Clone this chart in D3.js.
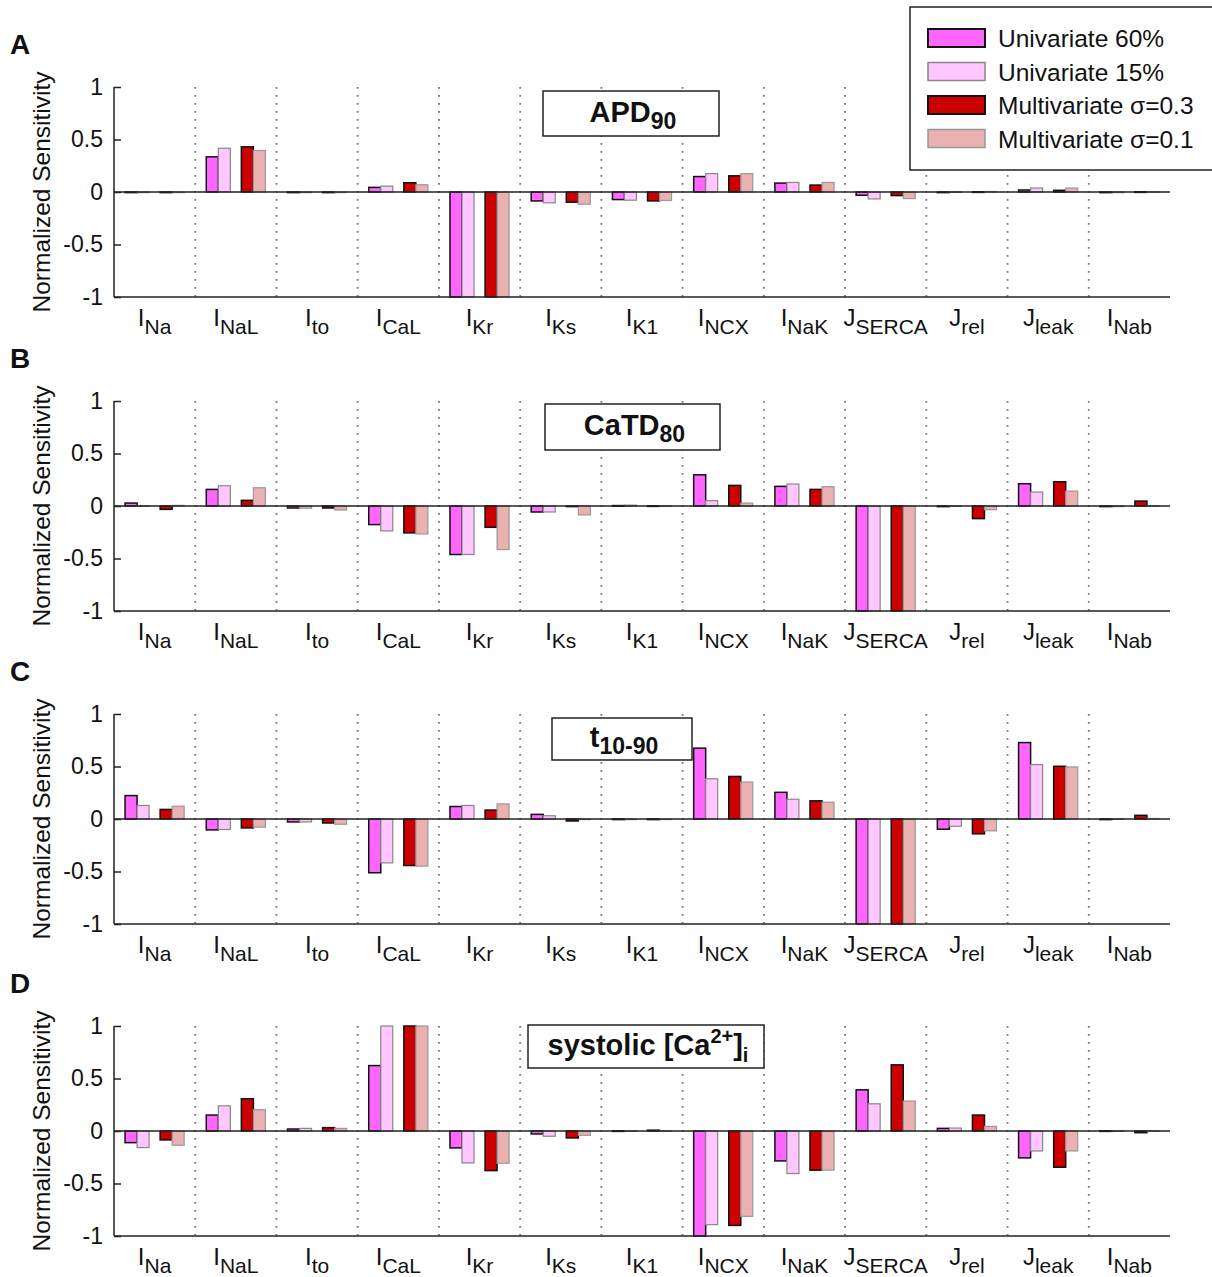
<!DOCTYPE html>
<html>
<head>
<meta charset="utf-8">
<script src="https://cdn.jsdelivr.net/npm/d3@7"></script>
<style>
  html, body { margin: 0; padding: 0; background: #fff; }
  svg { display: block; font-family: Arial, "Liberation Sans", sans-serif; }
</style>
</head>
<body>
<svg id="chart" width="1212" height="1277"></svg>
<script>
// ---------- DATA ----------
const categories = [
  {main: "I", sub: "Na"}, {main: "I", sub: "NaL"}, {main: "I", sub: "to"},
  {main: "I", sub: "CaL"}, {main: "I", sub: "Kr"}, {main: "I", sub: "Ks"},
  {main: "I", sub: "K1"}, {main: "I", sub: "NCX"}, {main: "I", sub: "NaK"},
  {main: "J", sub: "SERCA"}, {main: "J", sub: "rel"}, {main: "J", sub: "leak"},
  {main: "I", sub: "Nab"}
];
const seriesNames = ["Univariate 60%", "Univariate 15%", "Multivariate \u03c3=0.3", "Multivariate \u03c3=0.1"];
const yTicks = [1, 0.5, 0, -0.5, -1];
const panelLetters = ["A", "B", "C", "D"];

// APD90: [uni60, uni15, multi0.3, multi0.1] per category
const apd90 = [
  [-0.004, -0.003, -0.003, -0.003],
  [0.335, 0.417, 0.43, 0.395],
  [-0.004, -0.003, -0.003, -0.003],
  [0.044, 0.056, 0.088, 0.069],
  [-1, -1, -1, -1],
  [-0.085, -0.103, -0.097, -0.116],
  [-0.072, -0.078, -0.085, -0.081],
  [0.147, 0.175, 0.154, 0.175],
  [0.085, 0.091, 0.066, 0.091],
  [-0.031, -0.066, -0.034, -0.063],
  [-0.003, 0.002, 0.002, 0.005],
  [0.019, 0.038, 0.016, 0.038],
  [-0.003, -0.003, 0.002, 0.003]
];
const catd80 = [
  [0.028, 0.003, -0.032, 0.006],
  [0.158, 0.193, 0.054, 0.174],
  [-0.019, -0.02, -0.019, -0.038],
  [-0.177, -0.237, -0.256, -0.266],
  [-0.462, -0.462, -0.203, -0.415],
  [-0.057, -0.057, -0.003, -0.085],
  [0.004, 0.008, 0.002, 0.002],
  [0.297, 0.051, 0.196, 0.028],
  [0.187, 0.209, 0.158, 0.184],
  [-1, -1, -1, -1],
  [-0.006, 0.002, -0.12, -0.035],
  [0.212, 0.133, 0.231, 0.142],
  [-0.005, -0.005, 0.047, 0.003]
];
const t1090 = [
  [0.223, 0.129, 0.091, 0.122],
  [-0.104, -0.1, -0.085, -0.078],
  [-0.028, -0.028, -0.038, -0.05],
  [-0.512, -0.418, -0.443, -0.449],
  [0.119, 0.129, 0.085, 0.144],
  [0.044, 0.031, -0.019, -0.005],
  [-0.003, -0.003, -0.003, -0.003],
  [0.675, 0.383, 0.405, 0.352],
  [0.254, 0.188, 0.173, 0.16],
  [-1, -1, -1, -1],
  [-0.097, -0.069, -0.141, -0.113],
  [0.728, 0.518, 0.502, 0.496],
  [-0.003, 0.002, 0.035, 0.005]
];
const systolicCa = [
  [-0.111, -0.158, -0.085, -0.136],
  [0.152, 0.24, 0.307, 0.203],
  [0.019, 0.025, 0.032, 0.025],
  [0.623, 1, 1, 1],
  [-0.161, -0.304, -0.377, -0.307],
  [-0.028, -0.05, -0.066, -0.041],
  [0.002, 0.002, 0.008, 0.002],
  [-1, -0.892, -0.899, -0.813],
  [-0.285, -0.405, -0.373, -0.373],
  [0.392, 0.259, 0.63, 0.285],
  [0.025, 0.028, 0.152, 0.044],
  [-0.256, -0.19, -0.345, -0.19],
  [0.002, 0.002, -0.016, 0.002]
];
const panelData = [apd90, catd80, t1090, systolicCa];

// ---------- STYLE / LAYOUT ----------
const fills = ["#ff66ff", "#ffc6ff", "#cc0000", "#ebb0b0"];
const strokes = ["#111", "#888", "#111", "#999"];
const panelTops = [87, 401, 714, 1026];
const panelH = 210;
const plotLeft = 114, plotRight = 1170;
const titleBoxes = [
  {x: 543, y: 91, w: 176, h: 45},
  {x: 545, y: 404, w: 175, h: 46},
  {x: 552, y: 718, w: 140, h: 42},
  {x: 528, y: 1025, w: 236, h: 43}
];

const svg = d3.select("#chart");
const x = d3.scaleBand().domain(d3.range(categories.length)).range([plotLeft, plotRight]).padding(0);
const bw = x.bandwidth();
const barW = bw * 0.148;
const inner = d3.scaleOrdinal().domain([0,1,2,3]).range([
  bw*0.136, bw*0.136 + barW, bw*0.136 + 2*barW + bw*0.136, bw*0.136 + 3*barW + bw*0.136
]);

panelData.forEach((data, p) => {
  const top = panelTops[p];
  const y = d3.scaleLinear().domain([-1, 1]).range([top + panelH, top]);
  const g = svg.append("g");

  // dotted separators
  g.selectAll("line.sep").data(d3.range(1, categories.length)).join("line")
    .attr("x1", d => x(d)).attr("x2", d => x(d))
    .attr("y1", y(1)).attr("y2", y(-1))
    .attr("stroke", "#777").attr("stroke-width", 1.8)
    .attr("stroke-dasharray", "1.8,6.2");

  // bars
  const flat = [];
  data.forEach((vals, ci) => vals.forEach((v, si) => flat.push({ci, si, v})));
  g.selectAll("rect.bar").data(flat).join("rect")
    .attr("x", d => x(d.ci) + inner(d.si))
    .attr("width", barW)
    .attr("y", d => y(Math.max(0, d.v)))
    .attr("height", d => Math.max(0.6, Math.abs(y(d.v) - y(0))))
    .attr("fill", d => fills[d.si])
    .attr("stroke", d => strokes[d.si])
    .attr("stroke-width", d => (d.si % 2 === 0 ? 1.5 : 1.2));

  // zero line
  g.append("line").attr("x1", plotLeft).attr("x2", plotRight)
    .attr("y1", y(0)).attr("y2", y(0)).attr("stroke", "#222").attr("stroke-width", 1.5);

  // y axis
  const yAxis = d3.axisLeft(y).tickValues(yTicks).tickSize(-7).tickPadding(11)
    .tickFormat(d => String(d));
  const ya = g.append("g").attr("transform", `translate(${plotLeft},0)`).call(yAxis);
  ya.select(".domain").attr("stroke", "#222").attr("stroke-width", 1.5).attr("d", `M0,${y(1)}V${y(-1)}`);
  ya.selectAll(".tick line").attr("stroke", "#222").attr("stroke-width", 1.5);
  ya.selectAll(".tick text").attr("font-size", 23).attr("fill", "#111")
    .attr("font-family", "Arial, 'Liberation Sans', sans-serif");

  // bottom axis line
  g.append("line").attr("x1", plotLeft).attr("x2", plotRight)
    .attr("y1", y(-1)).attr("y2", y(-1)).attr("stroke", "#222").attr("stroke-width", 1.5);

  // category labels
  const labs = g.selectAll("text.cat").data(categories).join("text")
    .attr("x", (d, i) => x(i) + bw / 2)
    .attr("y", y(-1) + 32)
    .attr("text-anchor", "middle")
    .attr("font-size", 24).attr("fill", "#111");
  labs.append("tspan").text(d => d.main).attr("dy", -3);
  labs.append("tspan").text(d => d.sub).attr("font-size", 21).attr("dy", 8);

  // y label
  g.append("text")
    .attr("transform", `translate(50,${top + panelH / 2}) rotate(-90)`)
    .attr("text-anchor", "middle").attr("font-size", 24.5).attr("fill", "#111")
    .text("Normalized Sensitivity");

  // panel letter
  g.append("text").attr("x", 10).attr("y", top - 33)
    .attr("font-size", 28).attr("font-weight", "bold").attr("fill", "#111")
    .text(panelLetters[p]);

  // title box
  const tb = titleBoxes[p];
  g.append("rect").attr("x", tb.x).attr("y", tb.y).attr("width", tb.w).attr("height", tb.h)
    .attr("fill", "#fff").attr("stroke", "#222").attr("stroke-width", 1.5);
  const tt = g.append("text").attr("x", tb.x + tb.w / 2 + 2).attr("y", tb.y + tb.h / 2 + 8)
    .attr("text-anchor", "middle").attr("font-size", 29).attr("font-weight", "bold").attr("fill", "#111");
  if (p === 0) {
    tt.append("tspan").text("APD");
    tt.append("tspan").text("90").attr("font-size", 23).attr("dy", 7);
  } else if (p === 1) {
    tt.append("tspan").text("CaTD");
    tt.append("tspan").text("80").attr("font-size", 23).attr("dy", 7);
  } else if (p === 2) {
    tt.append("tspan").text("t");
    tt.append("tspan").text("10-90").attr("font-size", 23).attr("dy", 7);
  } else {
    tt.append("tspan").text("systolic [Ca");
    tt.append("tspan").text("2+").attr("font-size", 20).attr("dy", -12);
    tt.append("tspan").text("]").attr("dy", 12);
    tt.append("tspan").text("i").attr("font-size", 20).attr("dy", 7);
  }
});

// legend
const lg = svg.append("g");
lg.append("rect").attr("x", 910).attr("y", 7).attr("width", 310).attr("height", 163)
  .attr("fill", "#fff").attr("stroke", "#222").attr("stroke-width", 1.5);
const rows = lg.selectAll("g.row").data(seriesNames).join("g")
  .attr("transform", (d, i) => `translate(0,${38 + i * 33.5})`);
rows.append("rect").attr("x", 928).attr("y", -9).attr("width", 57).attr("height", 18)
  .attr("fill", (d, i) => fills[i]).attr("stroke", (d, i) => strokes[i])
  .attr("stroke-width", (d, i) => (i % 2 === 0 ? 2 : 1.5));
rows.append("text").attr("x", 998).attr("y", 9).attr("font-size", 24.5).attr("fill", "#111").text(d => d);
</script>
</body>
</html>
